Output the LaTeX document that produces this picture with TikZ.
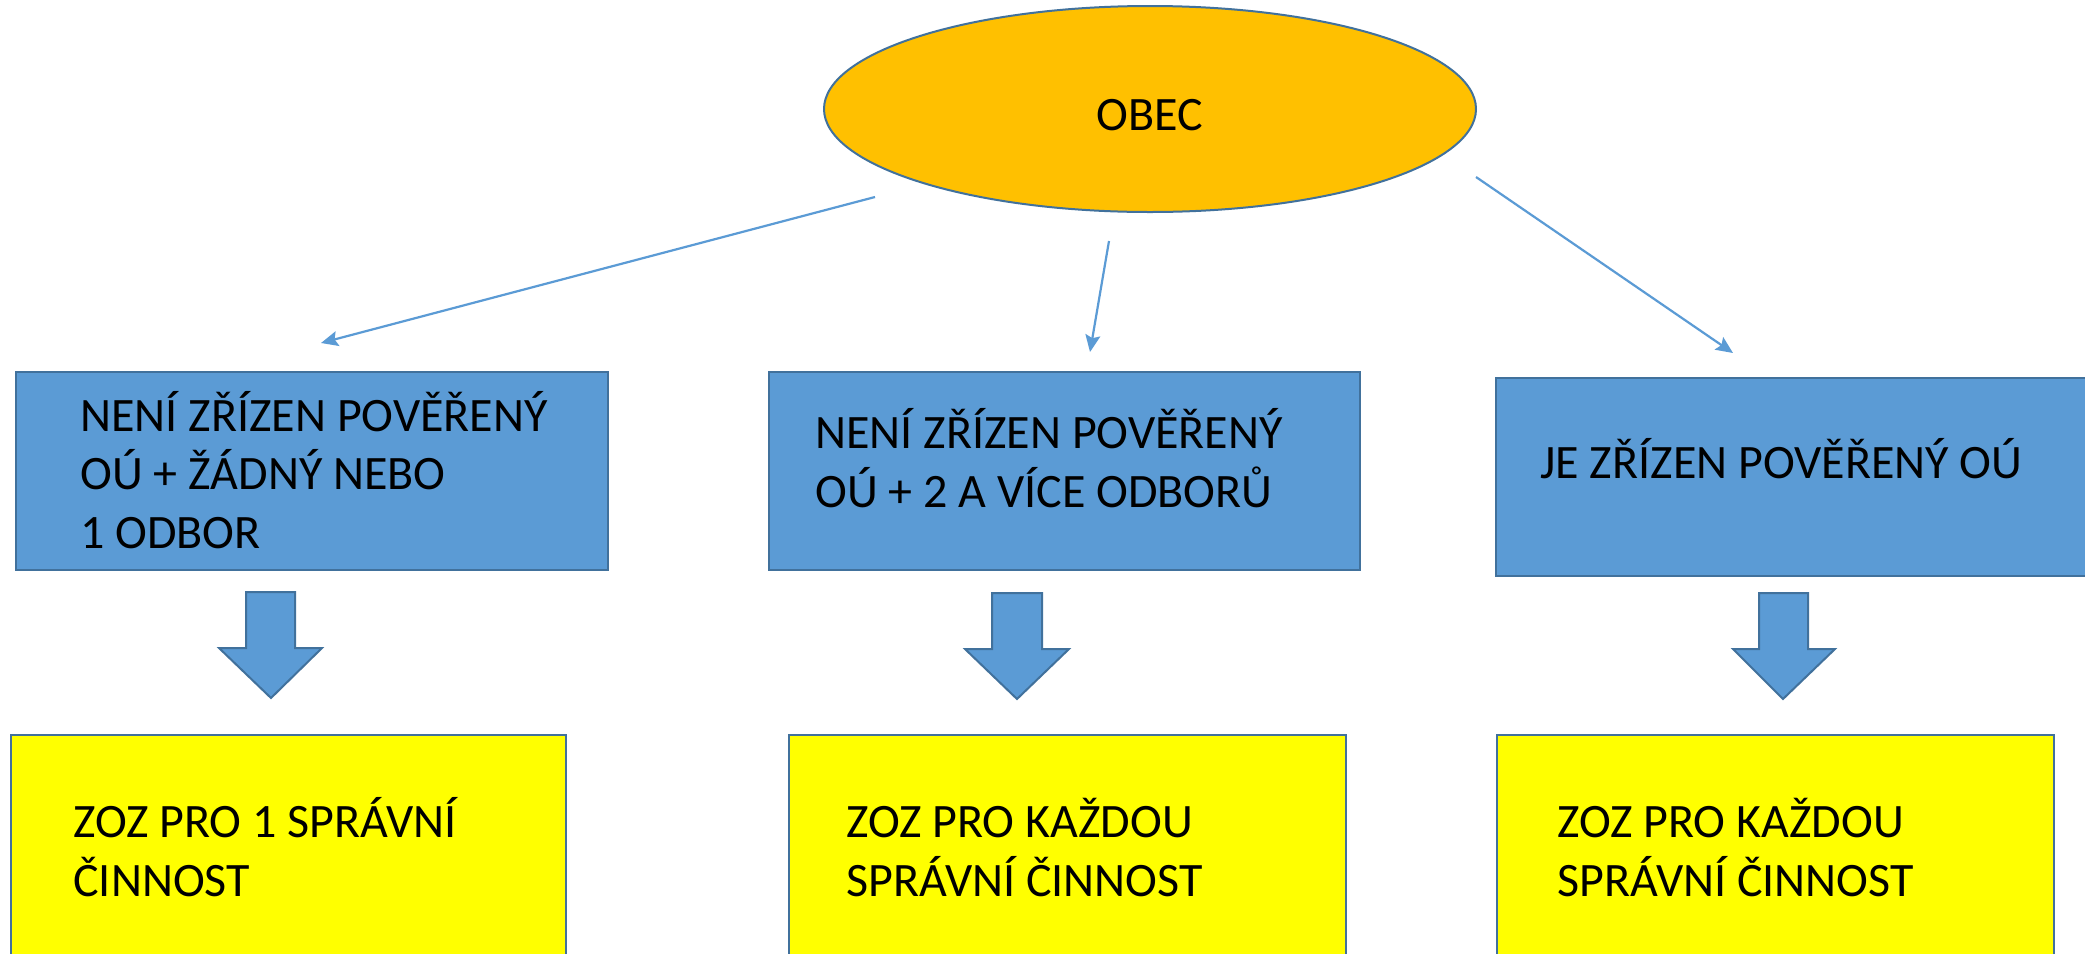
\documentclass[tikz,border=0pt]{standalone}
\usepackage{fontspec}
\setmainfont{Carlito}
\usetikzlibrary{shapes.geometric,arrows.meta}
\definecolor{obecfill}{HTML}{FFC000}
\definecolor{edgeblue}{HTML}{41719C}
\definecolor{bluefill}{HTML}{5B9BD5}
\definecolor{yelfill}{HTML}{FFFF00}
\begin{document}
\begin{tikzpicture}[x=0.5pt,y=-0.5pt,
  bluebox/.style={draw=edgeblue, fill=bluefill, line width=1pt, inner sep=0pt, minimum height=99pt},
  yelbox/.style={draw=edgeblue, fill=yelfill, line width=1pt, inner sep=0pt, minimum height=127.5pt},
  obecshape/.style={ellipse, draw=edgeblue, fill=obecfill, line width=1pt, inner sep=0pt, minimum width=326pt, minimum height=103pt},
  lbl/.style={anchor=base west, inner sep=0pt, align=left, font=\fontsize{24pt}{29.25pt}\selectfont},
  thinarrow/.style={draw=bluefill, line width=1.1pt, -{Stealth[length=8.5pt,width=7.5pt,inset=1.5pt]}},
  blockarrow/.style={draw=edgeblue, fill=bluefill, line width=1pt, line join=miter}
]
\clip (0,0) rectangle (2085,954);
\fill[white] (0,0) rectangle (2085,954);

% ellipse
\node[obecshape] (obec) at (1150,109) {};
\node[anchor=base, inner sep=0pt, font=\fontsize{24pt}{29pt}\selectfont] (obect) at (1150,130) {OBEC};

% blue boxes
\node[bluebox, minimum width=296pt] (b1) at (312,471) {};
\node[bluebox, minimum width=295.5pt] (b2) at (1064.5,471) {};
\node[bluebox, minimum width=302pt] (b3) at (1798,477) {};

\node[lbl] (t1) at (80,548) {NENÍ ZŘÍZEN POVĚŘENÝ\\OÚ + ŽÁDNÝ NEBO\\1 ODBOR};
\node[lbl] (t2) at (815,507) {NENÍ ZŘÍZEN POVĚŘENÝ\\OÚ + 2 A VÍCE ODBORŮ};
\node[lbl] (t3) at (1540,478) {JE ZŘÍZEN POVĚŘENÝ OÚ};

% yellow boxes
\node[yelbox, minimum width=277.5pt] (y1) at (288.5,862.5) {};
\node[yelbox, minimum width=278.5pt] (y2) at (1067.5,862.5) {};
\node[yelbox, minimum width=278.5pt] (y3) at (1775.5,862.5) {};

\node[lbl] (u1) at (73,896) {ZOZ PRO 1 SPRÁVNÍ\\ČINNOST};
\node[lbl] (u2) at (846,896) {ZOZ PRO KAŽDOU\\SPRÁVNÍ ČINNOST};
\node[lbl] (u3) at (1557,896) {ZOZ PRO KAŽDOU\\SPRÁVNÍ ČINNOST};

% thin arrows with free ends
\coordinate (s1) at (875,197);
\coordinate (e1) at (321,343);
\coordinate (s2) at (1109,241);
\coordinate (e2) at (1090,352);
\coordinate (s3) at (1476,177);
\coordinate (e3) at (1733,353);
\draw[thinarrow] (s1) -- (e1);
\draw[thinarrow] (s2) -- (e2);
\draw[thinarrow] (s3) -- (e3);

% block arrows
\draw[blockarrow] (246,592) -- (295,592) -- (295,648) -- (322,648) -- (271,698) -- (219,648) -- (246,648) -- cycle;
\draw[blockarrow] (992,593) -- (1042,593) -- (1042,649) -- (1069,649) -- (1017,699) -- (965,649) -- (992,649) -- cycle;
\draw[blockarrow] (1759,593) -- (1808,593) -- (1808,649) -- (1835,649) -- (1783,699) -- (1733,649) -- (1759,649) -- cycle;
\end{tikzpicture}
\end{document}
